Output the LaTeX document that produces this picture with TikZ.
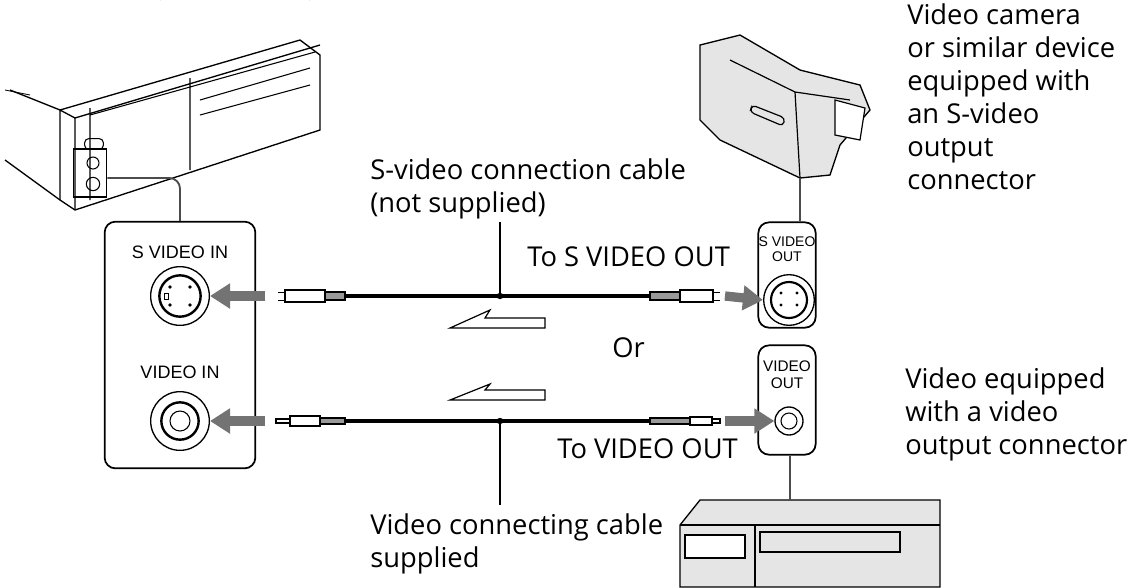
\documentclass[tikz,border=0pt]{standalone}
\usepackage{fontspec}
\setmainfont{Open Sans}
\newfontfamily\lab{Liberation Sans}
\usetikzlibrary{arrows.meta}
\begin{document}
\begin{tikzpicture}[x=0.75pt,y=-0.75pt,
  txt/.style={font=\fontsize{20.5}{24.75}\selectfont,align=left,inner sep=0,anchor=north west},
  plab/.style={font=\lab\fontsize{13.5}{14}\selectfont,inner sep=0,align=center},
  panel/.style={draw,line width=1.3pt,rounded corners=8pt,fill=white},
  lead/.style={draw=black!70,line width=1.4pt},
  gar/.style={draw=black!55,line width=7pt,-{Triangle[length=15pt,width=18pt]}},
  cab/.style={line width=2.4pt},
  plug/.style={draw,line width=0.8pt,fill=white},
  dev/.style={draw,line width=1pt,fill=black!10}]
\useasboundingbox (0,0) rectangle (1140,587);
% ---------- printer ----------
\draw[line width=1pt] (160,0) arc[start angle=180,end angle=360,x radius=75,y radius=28];
\draw[dev,fill=white] (10,90) -- (60,110) -- (300,40) -- (320,55) -- (320,130) -- (75,210) -- (60,200) -- (5,160);
\draw[line width=1pt] (60,110) -- (60,200) (60,110) -- (75,118) -- (75,210) (75,118) -- (320,45);
\draw[line width=0.8pt] (90,108) -- (90,200) (190,78) -- (190,170) (90,115) -- (315,52) (200,100) -- (310,68) (200,115) -- (310,85);
\draw[line width=0.6pt] (30,95) -- (5,90);
\node[draw,line width=0.8pt,minimum width=14pt,minimum height=8pt,rounded corners=3pt,inner sep=0] (pbtn) at (94,144) {};
\node[draw,line width=0.8pt,circle,minimum size=9pt,inner sep=0] (pj1) at (93,163) {};
\node[draw,line width=0.8pt,circle,minimum size=10pt,inner sep=0] (pj2) at (93,184) {};
\node[draw,line width=1pt,minimum width=25pt,minimum height=36pt,inner sep=0] (pbox) at (90,173) {};
% ---------- left panel ----------
\node[panel,minimum width=113pt,minimum height=185pt] (lp) at (180,345) {};
\draw[lead,rounded corners=8pt] (lp.north) -- (180,178) -- (pbox.east |- 0,178);
\node[plab] (l1) at (180,252) {S VIDEO IN};
\node[plab] (l2) at (180,372) {VIDEO IN};
\node[circle,draw,line width=1pt,minimum size=44pt] (sin) at (180,296) {};
\node[circle,draw,line width=1.8pt,minimum size=31pt] at (180,296) {};
\foreach \p in {(170,287),(190,287),(170,305),(190,305)} \fill \p circle (1.8);
\draw (164,293) rectangle (168,299);
\node[circle,draw,line width=1pt,minimum size=44pt] (vin) at (180,421) {};
\node[circle,draw,line width=1.8pt,minimum size=28pt] at (180,421) {};
\node[circle,draw,line width=0.8pt,minimum size=15pt] at (180,421) {};
% ---------- right panels ----------
\node[panel,minimum width=43pt,minimum height=79pt] (rp1) at (787,275) {};
\node[plab,font=\lab\fontsize{10.5}{11}\selectfont] at (787,249) {S VIDEO\\OUT};
\node[circle,draw,line width=1pt,minimum size=38pt] (sout) at (789,300) {};
\node[circle,draw,line width=1.6pt,minimum size=27pt] at (789,300) {};
\foreach \p in {(781,293),(797,293),(781,305),(797,305)} \fill \p circle (1.6);
\node[panel,minimum width=43pt,minimum height=82pt] (rp2) at (787,400) {};
\node[plab,font=\lab\fontsize{11.5}{12.5}\selectfont] at (787,375) {VIDEO\\OUT};
\node[circle,draw,line width=1pt,minimum size=21pt] (vout) at (789,421) {};
\node[circle,draw,line width=0.8pt,minimum size=12pt] at (789,421) {};
% ---------- camera ----------
\draw[dev] (700,45) -- (740,35) -- (800,70) -- (860,85) -- (870,110) -- (840,145) -- (830,175) -- (800,178) -- (720,140) -- (700,120) -- cycle;
\draw[line width=0.9pt] (730,60) -- (795,92) -- (800,178) (795,92) -- (850,100);
\draw[line width=0.9pt,fill=white] (835,100) -- (865,108) -- (860,140) -- (835,135) -- cycle;
\draw[line width=0.9pt,rounded corners=3pt] (752,105) -- (785,118) -- (783,126) -- (750,112) -- cycle;
\node[coordinate] (cam) at (800,178) {};
\draw[lead] (cam) -- (rp1.north -| cam);
% ---------- VCR ----------
\draw[dev] (680,525) -- (700,500) -- (940,500) -- (940,587) -- (680,587) -- cycle;
\draw[line width=0.9pt] (680,525) -- (940,525);
\draw[line width=0.9pt,fill=white] (685,535) rectangle (745,558);
\draw[line width=0.9pt] (760,532) rectangle (900,552);
\draw[line width=0.8pt] (755,525) -- (755,587);
\node[coordinate] (vcr) at (790,500) {};
\draw[lead] (rp2.south -| vcr) -- (vcr);
% ---------- cables ----------
\node[coordinate] (sL) at (345,296) {};
\node[coordinate] (sR) at (650,296) {};
\node[coordinate] (vL) at (345,421) {};
\node[coordinate] (vR) at (650,421) {};
\draw[cab] (sL) -- (sR);
\draw[cab] (vL) -- (vR);
% s plugs
\draw[plug] (285,290) rectangle (325,302); \draw[plug,fill=black!40] (325,292) rectangle (345,300);
\draw (278,292) -- (285,292) (278,300) -- (285,300);
\draw[plug] (680,290) rectangle (713,302); \draw[plug,fill=black!40] (650,292) rectangle (680,300);
\draw (713,292) -- (720,292) (713,300) -- (720,300);
% video plugs
\draw[plug] (290,416) rectangle (320,426); \draw[plug,fill=black!40] (320,418) rectangle (345,424);
\draw[plug] (276,419) rectangle (290,423);
\draw[plug,fill=black!40] (650,418) rectangle (690,424); \draw[plug] (690,417) rectangle (712,425); \draw[plug] (712,419) rectangle (720,423);
% grey arrows
\coordinate (a1) at (265,296);
\coordinate (a2) at (265,421);
\coordinate (a3) at (725,296);
\coordinate (a4) at (725,421);
\draw[gar] (a1) -- (sin.east);
\draw[gar] (a2) -- (vin.east);
\draw[gar] (a3) -- (sout.west);
\draw[gar] (a4) -- (vout.west);
% hollow arrows
\draw[line width=0.9pt,fill=white] (545,318) -- (485,318) -- (490,310) -- (450,328) -- (545,328) -- cycle;
\draw[line width=0.9pt,fill=white] (545,400) -- (450,400) -- (490,384) -- (485,390) -- (545,390) -- cycle;
% leaders
\coordinate (ds) at (500,296);
\coordinate (dv) at (500,421);
\fill (ds) circle (3.2);
\fill (dv) circle (3.2);
\node[txt] (t1) at (370,158) {S-video connection cable\\(not supplied)};
\node[txt] (t2) at (370,513) {Video connecting cable\\supplied};
\draw[line width=1pt] (ds) -- (500,222);
\draw[line width=1pt] (dv) -- (500,505);
\node[txt] (t3) at (527,246) {To S VIDEO OUT};
\node[txt] (t4) at (612,337) {Or};
\node[txt] (t5) at (557,438) {To VIDEO OUT};
\node[txt] (t6) at (907,3) {Video camera\\or similar device\\equipped with\\an S-video\\output\\connector};
\node[txt] (t7) at (905,367) {Video equipped\\with a video\\output connector};
\end{tikzpicture}
\end{document}
